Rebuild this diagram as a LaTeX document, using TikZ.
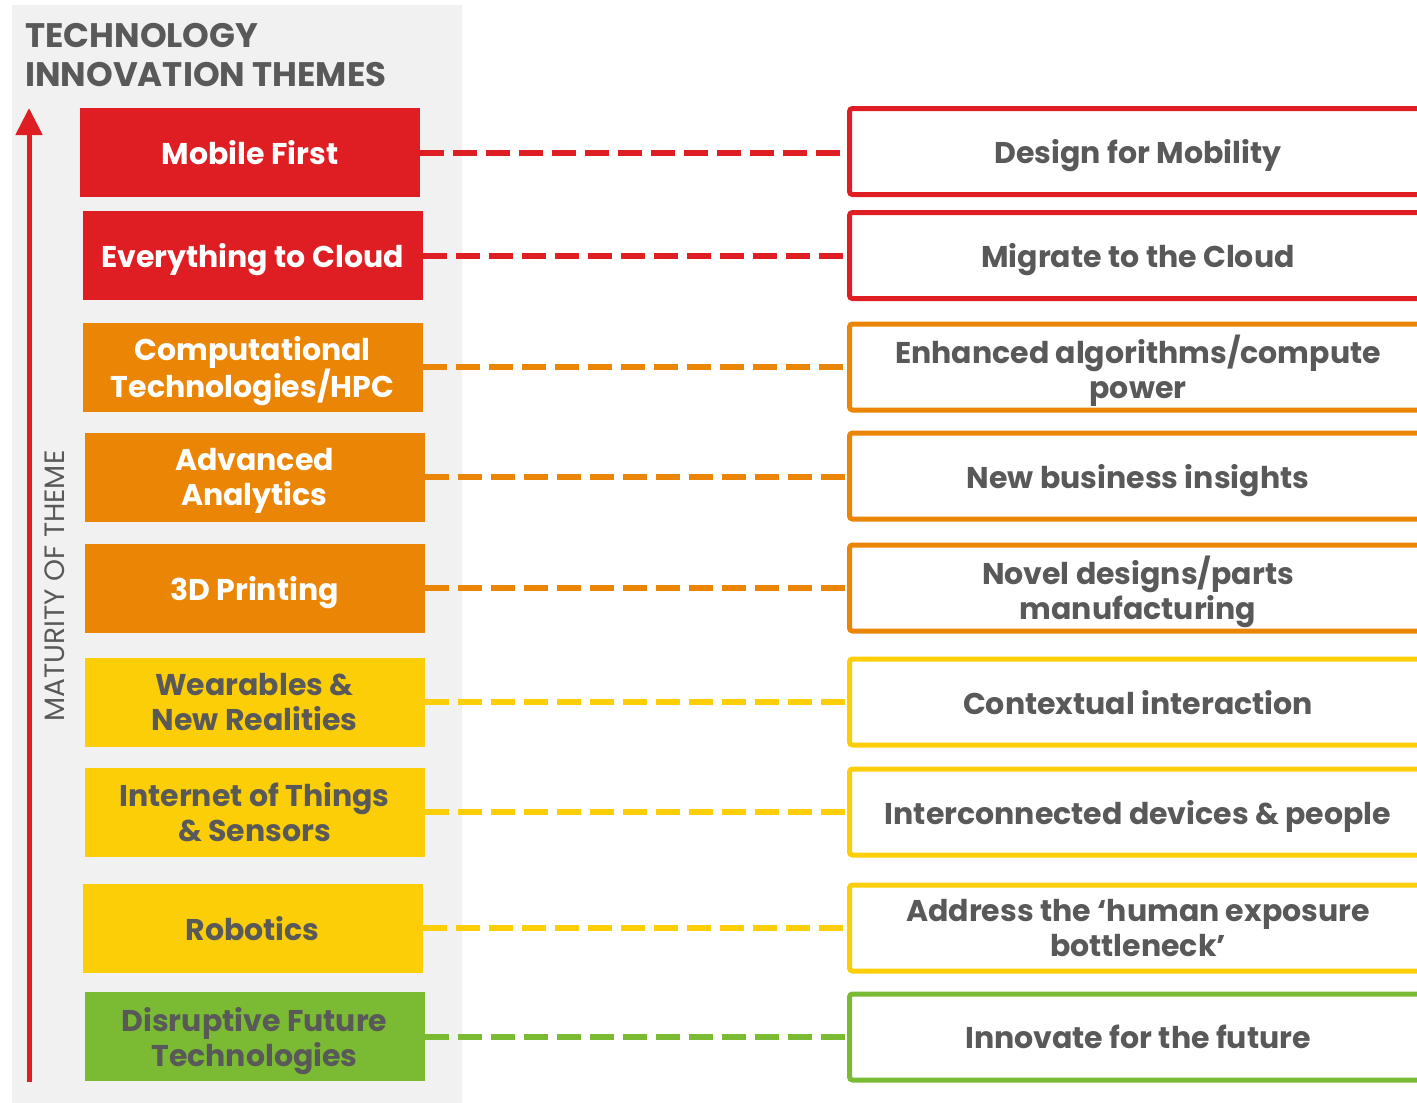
\documentclass[tikz,border=0pt]{standalone}
\usepackage{fontspec}
\setmainfont{Poppins}
\usetikzlibrary{arrows.meta}
\definecolor{cred}{HTML}{DF1E24}
\definecolor{corange}{HTML}{EB8505}
\definecolor{cyellow}{HTML}{FCCE07}
\definecolor{cgreen}{HTML}{7BBB33}
\definecolor{ctext}{HTML}{595959}
\definecolor{cpanel}{HTML}{F1F1F1}
\begin{document}
\begin{tikzpicture}[x=1pt,y=-1pt,
  boxfont/.style={font=\fontsize{30}{35}\selectfont\bfseries,
     execute at begin node={\vphantom{A}}, text depth=0pt},
  theme/.style={fill=#1, draw=none, minimum width=340pt, minimum height=89pt, inner sep=0pt, outer sep=0pt,
     align=center, boxfont},
  goal/.style={draw=#1, fill=white, line width=5pt, rounded corners=3pt, minimum width=577pt, minimum height=86pt,
     inner sep=0pt, outer sep=0pt, align=center, text=ctext, boxfont},
  link/.style={draw=#1, line width=6pt, dash pattern=on 24pt off 9pt},
]
\useasboundingbox (0,0) rectangle (1417,1103);
\clip (0,0) rectangle (1417,1103);
\fill[cpanel] (12,5) rectangle (462,1103);
\node[anchor=base west, align=left, text=ctext, font=\fontsize{34}{39}\selectfont\bfseries, inner sep=0pt] (title) at (25,86) {TECHNOLOGY\\INNOVATION THEMES};
\coordinate (abot) at (29,1082);
\coordinate (atop) at (29,108);
\draw[cred, line width=5pt, -{Triangle[width=26pt,length=27pt]}] (abot) -- (atop);
\node[rotate=90, text=ctext, font=\fontsize{28}{30}\selectfont, inner sep=0pt] (mat) at (55,586) {MATURITY OF THEME};

\node[theme=cred, text=white] (L1) at (250,152.5) {Mobile First};
\node[theme=cred, text=white] (L2) at (252.5,255.5) {Everything to Cloud};
\node[theme=corange, text=white] (L3) at (252.5,367) {Computational\\Technologies/HPC};
\node[theme=corange, text=white] (L4) at (254.5,477) {Advanced\\Analytics};
\node[theme=corange, text=white] (L5) at (254.5,588) {3D Printing};
\node[theme=cyellow, text=ctext] (L6) at (254.5,702) {Wearables \&\\New Realities};
\node[theme=cyellow, text=ctext] (L7) at (254.5,812) {Internet of Things\\\& Sensors};
\node[theme=cyellow, text=ctext] (L8) at (252.5,928) {Robotics};
\node[theme=cgreen, text=ctext] (L9) at (254.5,1036.5) {Disruptive Future\\Technologies};

\node[goal=cred] (R1) at (1138,151.5) {Design for Mobility};
\node[goal=cred] (R2) at (1138,255.5) {Migrate to the Cloud};
\node[goal=corange] (R3) at (1138,367) {Enhanced algorithms/compute\\power};
\node[goal=corange] (R4) at (1138,476) {New business insights};
\node[goal=corange] (R5) at (1138,588) {Novel designs/parts\\manufacturing};
\node[goal=cyellow] (R6) at (1138,702) {Contextual interaction};
\node[goal=cyellow] (R7) at (1138,812) {Interconnected devices \& people};
\node[goal=cyellow] (R8) at (1138,928) {Address the ‘human exposure\\bottleneck’};
\node[goal=cgreen] (R9) at (1138,1037) {Innovate for the future};

\draw[link=cred] (L1.east) -- (L1.east -| R1.west);
\draw[link=cred] (L2.east) -- (L2.east -| R2.west);
\draw[link=corange] (L3.east) -- (L3.east -| R3.west);
\draw[link=corange] (L4.east) -- (L4.east -| R4.west);
\draw[link=corange] (L5.east) -- (L5.east -| R5.west);
\draw[link=cyellow] (L6.east) -- (L6.east -| R6.west);
\draw[link=cyellow] (L7.east) -- (L7.east -| R7.west);
\draw[link=cyellow] (L8.east) -- (L8.east -| R8.west);
\draw[link=cgreen] (L9.east) -- (L9.east -| R9.west);
\end{tikzpicture}
\end{document}
